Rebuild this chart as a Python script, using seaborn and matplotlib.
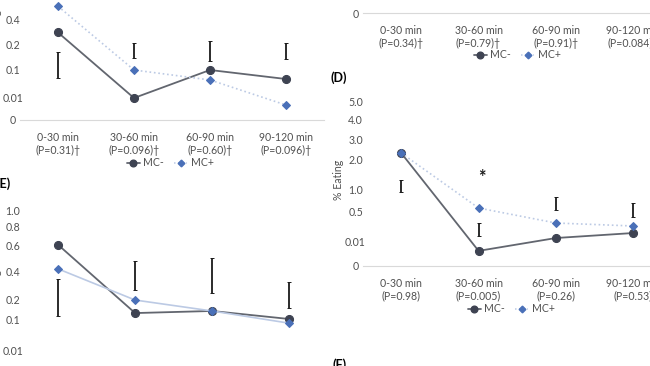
import numpy as np
import matplotlib.pyplot as plt
from matplotlib.lines import Line2D
import seaborn as sns

sns.set_style("white")
plt.rcParams['font.family'] = ['Lato', 'DejaVu Sans']

W, H = 650, 366

# x categories
x = [0, 1, 2, 3]

# top-left panel
tl_labels = ["0-30 min\n(P=0.31)\u2020", "30-60 min\n(P=0.096)\u2020",
             "60-90 min\n(P=0.60)\u2020", "90-120 min\n(P=0.096)\u2020"]
tl_minus = [0.30, 0.01, 0.10, 0.071]
tl_plus = [0.51, 0.10, 0.068, 0.0068]
tl_err_low = [0.074, 0.148, 0.136, 0.144]
tl_err_high = [0.172, 0.216, 0.232, 0.216]
tl_ticks = [0, 0.01, 0.1, 0.2, 0.4, 0.6]
tl_tick_labels = ["0", "0.01", "0.1", "0.2", "0.4", ""]
tl_tick_pos = [0, 22, 50, 75, 100, 125]

# top-right panel (only its bottom is visible)
tr_labels = ["0-30 min\n(P=0.34)\u2020", "30-60 min\n(P=0.79)\u2020",
             "60-90 min\n(P=0.91)\u2020", "90-120 min\n(P=0.084)\u2020"]

# panel D
d_labels = ["0-30 min\n(P=0.98)", "30-60 min\n(P=0.005)",
            "60-90 min\n(P=0.26)", "90-120 min\n(P=0.53)"]
d_minus = [2.35, 0.0063, 0.073, 0.152]
d_plus = [2.35, 0.568, 0.31, 0.263]
d_err_low = [0.93, 0.105, 0.523, 0.405]
d_err_high = [1.31, 0.31, 0.818, 0.682]
d_ticks = [0, 0.01, 0.5, 1.0, 2.0, 3.0, 4.0, 5.0]
d_tick_labels = ["0", "0.01", "0.5", "1.0", "2.0", "3.0", "4.0", "5.0"]
d_tick_pos = [0, 24, 55, 77, 106, 126, 147, 165]
d_star = 1.38

# panel E (its x labels fall below the visible area)
e_minus = [0.61, 0.133, 0.143, 0.105]
e_plus = [0.416, 0.195, 0.143, 0.091]
e_err_low = [0.119, 0.264, 0.243, 0.157]
e_err_high = [0.343, 0.48, 0.504, 0.321]
e_ticks = [0, 0.01, 0.1, 0.2, 0.4, 0.6, 0.8, 1.0]
e_tick_labels = ["", "0.01", "0.1", "0.2", "0.4", "0.6", "0.8", "1.0"]
e_tick_pos = [0, 24, 55, 76, 104, 129, 148, 164]

TXT = '#505050'
DARK = '#3e4352'
DARK_LINE = '#62666f'
BLUE = '#4a70b8'
BLUE_LINE = '#bccae4'
FS = 7.6

fig = plt.figure(figsize=(W / 100, H / 100), dpi=100)


def px_axes(left, right, top, bottom):
    return fig.add_axes([left / W, 1 - bottom / H, (right - left) / W, (bottom - top) / H])


def setup(ax, ticks, tick_pos, tick_labels, ylim, xlabels):
    fwd = lambda v: np.interp(v, ticks, tick_pos)
    inv = lambda p: np.interp(p, tick_pos, ticks)
    ax.set_yscale('function', functions=(fwd, inv))
    ax.set_ylim(*ylim)
    ax.set_xlim(-0.5, 3.5)
    ax.set_yticks(ticks)
    ax.set_yticklabels(tick_labels, ha='center')
    ax.set_xticks(x)
    ax.set_xticklabels(xlabels)
    ax.tick_params(axis='y', length=0, pad=5, labelsize=FS, labelcolor=TXT)
    ax.tick_params(axis='x', length=0, pad=8.5, labelsize=FS, labelcolor=TXT)
    for s in ['top', 'right', 'left']:
        ax.spines[s].set_visible(False)
    ax.spines['bottom'].set_color('#d9d9d9')
    ax.spines['bottom'].set_linewidth(0.8)
    ax.set_facecolor('none')
    ax.set_xlabel('')
    ax.set_ylabel('')


def draw(ax, minus, plus, low, high, plus_ls):
    sns.lineplot(x=x, y=minus, ax=ax, color=DARK_LINE, lw=1.3, marker='o', markersize=5.8,
                 markerfacecolor=DARK, markeredgecolor=DARK, label='MC-', legend=False, zorder=3)
    sns.lineplot(x=x, y=plus, ax=ax, color=BLUE_LINE, lw=1.2, ls=plus_ls, marker='D', markersize=3.8,
                 markerfacecolor=BLUE, markeredgecolor=BLUE, label='MC+', legend=False, zorder=4)
    low = np.array(low)
    high = np.array(high)
    mid = (low + high) / 2
    ax.errorbar(x, mid, yerr=[mid - low, high - mid], fmt='none', ecolor='#1a1a1a',
                elinewidth=1.3, capsize=1.4, capthick=0.7, zorder=5)


def legend_at(cx, cy):
    handles = [Line2D([], [], color=DARK_LINE, lw=1.3, marker='o', markersize=4.8,
                      markerfacecolor=DARK, markeredgecolor=DARK),
               Line2D([], [], color=BLUE_LINE, lw=1.1, ls=':', marker='D', markersize=3.4,
                      markerfacecolor=BLUE, markeredgecolor=BLUE)]
    leg = fig.legend(handles, ['MC-', 'MC+'], loc='center', bbox_to_anchor=(cx / W, 1 - cy / H),
                     ncol=2, frameon=False, fontsize=FS, handlelength=1.3, handletextpad=0.3,
                     columnspacing=0.9, borderpad=0)
    for t in leg.get_texts():
        t.set_color(TXT)


# top-left
ax1 = px_axes(20, 324, -5, 120)
setup(ax1, tl_ticks, tl_tick_pos, tl_tick_labels, (0, 0.6), tl_labels)
draw(ax1, tl_minus, tl_plus, tl_err_low, tl_err_high, ':')
legend_at(170, 163)

# top-right
ax2 = px_axes(362.5, 672, -100, 13)
setup(ax2, [0, 1], [0, 1], ["0", ""], (0, 1), tr_labels)
legend_at(517, 55)

# panel D
ax3 = px_axes(362.5, 672, 101, 266)
setup(ax3, d_ticks, d_tick_pos, d_tick_labels, (0, 5.0), d_labels)
draw(ax3, d_minus, d_plus, d_err_low, d_err_high, ':')
ax3.text(1.04, d_star, '*', ha='center', va='center', fontsize=13, fontweight='bold', color='#1a1a1a')
legend_at(511, 309)

# panel E
ax4 = px_axes(20, 327, 211, 375)
setup(ax4, e_ticks, e_tick_pos, e_tick_labels, (0, 1.0), ["", "", "", ""])
draw(ax4, e_minus, e_plus, e_err_low, e_err_high, '-')

# y labels and panel letters
fig.text(338 / W, 1 - 180 / H, '% Eating', rotation=90, ha='center', va='center', fontsize=FS, color=TXT)
fig.text(-3 / W, 1 - 30 / H, '% Eating', rotation=90, ha='center', va='center', fontsize=FS, color=TXT)
fig.text(-3 / W, 1 - 290 / H, '% Eating', rotation=90, ha='center', va='center', fontsize=FS, color=TXT)
fig.text(347 / W, 1 - 78 / H, '(D)', ha='right', va='center', fontsize=9, fontweight='bold', color='black')
fig.text(11 / W, 1 - 184 / H, '(E)', ha='right', va='center', fontsize=9, fontweight='bold', color='black')
fig.text(347 / W, 1 - 365 / H, '(F)', ha='right', va='center', fontsize=9, fontweight='bold', color='black')

fig.savefig('out.png', dpi=100)
